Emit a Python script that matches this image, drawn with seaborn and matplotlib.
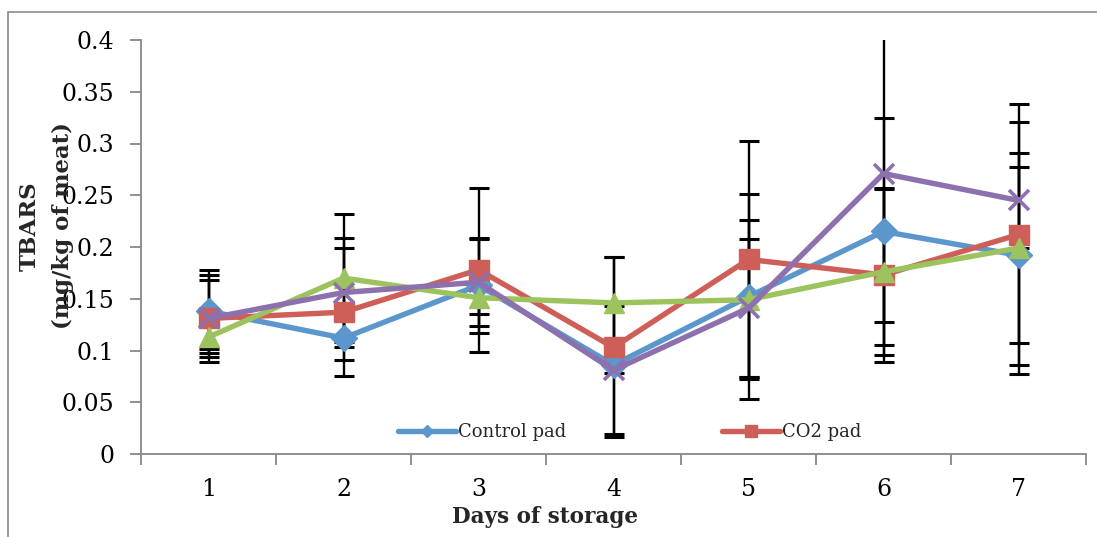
import matplotlib
matplotlib.use("Agg")
import matplotlib.pyplot as plt
import matplotlib.patches as mpatches
from matplotlib.lines import Line2D
import seaborn as sns
import numpy as np

# Storage days and TBARS means (mg/kg of meat) with their error margins
days = [1, 2, 3, 4, 5, 6, 7]

control_pad = [0.138, 0.112, 0.163, 0.086, 0.152, 0.215, 0.192]
co2_pad = [0.131, 0.137, 0.178, 0.103, 0.188, 0.173, 0.212]
pad_c = [0.113, 0.170, 0.151, 0.146, 0.149, 0.176, 0.199]
pad_d = [0.131, 0.156, 0.166, 0.081, 0.141, 0.271, 0.245]

control_err = [0.040, 0.021, 0.046, 0.008, 0.099, 0.110, 0.085]
co2_err = [0.042, 0.062, 0.079, 0.087, 0.114, 0.084, 0.126]
pad_c_err = [0.012, 0.062, 0.016, 0.044, 0.077, 0.080, 0.122]
pad_d_err = [0.037, 0.053, 0.042, 0.062, 0.067, 0.143, 0.046]

y_ticks = [0, 0.05, 0.1, 0.15, 0.2, 0.25, 0.3, 0.35, 0.4]
y_tick_labels = ["0", "0.05", "0.1", "0.15", "0.2", "0.25", "0.3", "0.35", "0.4"]

sns.set_theme(style="white")
plt.rcParams["font.family"] = ["DejaVu Serif"]

W, H = 1097, 537
fig = plt.figure(figsize=(W / 100, H / 100), dpi=100)
ax = fig.add_axes([141 / W, 1 - 454 / H, 945 / W, 414 / H])

series = [
    ("Control pad", control_pad, control_err, "#5B96CD", "D", 13),
    ("CO2 pad", co2_pad, co2_err, "#CD5F58", "s", 14),
    ("Pad C", pad_c, pad_c_err, "#9DC35F", "^", 15),
    ("Pad D", pad_d, pad_d_err, "#8C71AE", "x", 14),
]

# error bars sit beneath the lines
for name, vals, errs, color, marker, ms in series:
    ax.errorbar(days, vals, yerr=errs, fmt="none", ecolor="black",
                elinewidth=1.7, capsize=7, capthick=2.2, zorder=1)

for i, (name, vals, errs, color, marker, ms) in enumerate(series):
    sns.lineplot(x=days, y=vals, ax=ax, color=color, linewidth=3.9,
                 marker=marker, markersize=ms, markeredgecolor=color,
                 markerfacecolor=color,
                 markeredgewidth=2.6 if marker == "x" else 1.0,
                 legend=False, zorder=3 + i)

ax.set_xlim(0.5, 7.5)
ax.set_ylim(0, 0.4)
ax.set_yticks(y_ticks)
ax.set_yticklabels(y_tick_labels)
ax.set_xticks(np.arange(0.5, 8.0, 1.0))
ax.set_xticklabels([])
ax.set_xticks(days, minor=True)
ax.set_xticklabels([str(d) for d in days], minor=True)

spine_color = "#878787"
for side in ("top", "right"):
    ax.spines[side].set_visible(False)
for side in ("left", "bottom"):
    ax.spines[side].set_color(spine_color)
    ax.spines[side].set_linewidth(1.3)

ax.tick_params(axis="y", which="major", direction="out", length=8, width=1.3,
               color=spine_color, pad=11, labelsize=17, labelcolor="black", left=True)
ax.tick_params(axis="x", which="major", direction="out", length=8, width=1.3,
               color=spine_color, bottom=True)
ax.tick_params(axis="x", which="minor", length=0, pad=17, labelsize=17,
               labelcolor="black")
ax.set_xlabel("")
ax.set_ylabel("")

fig.text(545 / W, 1 - 517 / H, "Days of storage", ha="center", va="center",
         fontsize=15.5, fontweight="bold")
fig.text(30 / W, 1 - 226 / H, "TBARS", ha="center", va="center",
         rotation=90, fontsize=16.5, fontweight="bold")
fig.text(63 / W, 1 - 226 / H, "(mg/kg of meat)", ha="center", va="center",
         rotation=90, fontsize=16.5, fontweight="bold")

handles = [
    Line2D([], [], color=series[0][3], lw=3.9, marker="D", markersize=6,
           markeredgecolor=series[0][3]),
    Line2D([], [], color=series[1][3], lw=3.9, marker="s", markersize=8,
           markeredgecolor=series[1][3]),
]
fig.legend(handles, [series[0][0], series[1][0]], loc="center left",
           bbox_to_anchor=(398 / W, 1 - 432 / H), ncol=2, frameon=False,
           fontsize=13, handlelength=3.2, handletextpad=0.15,
           columnspacing=8.6, borderpad=0, borderaxespad=0)

# chart frame
fig.patches.append(mpatches.Rectangle((8 / W, -0.1), 1.2, (1 - 12 / H) + 0.1,
                                      transform=fig.transFigure, fill=False,
                                      edgecolor="#8c8c8c", linewidth=1.2))

fig.savefig("out.png", dpi=100)
